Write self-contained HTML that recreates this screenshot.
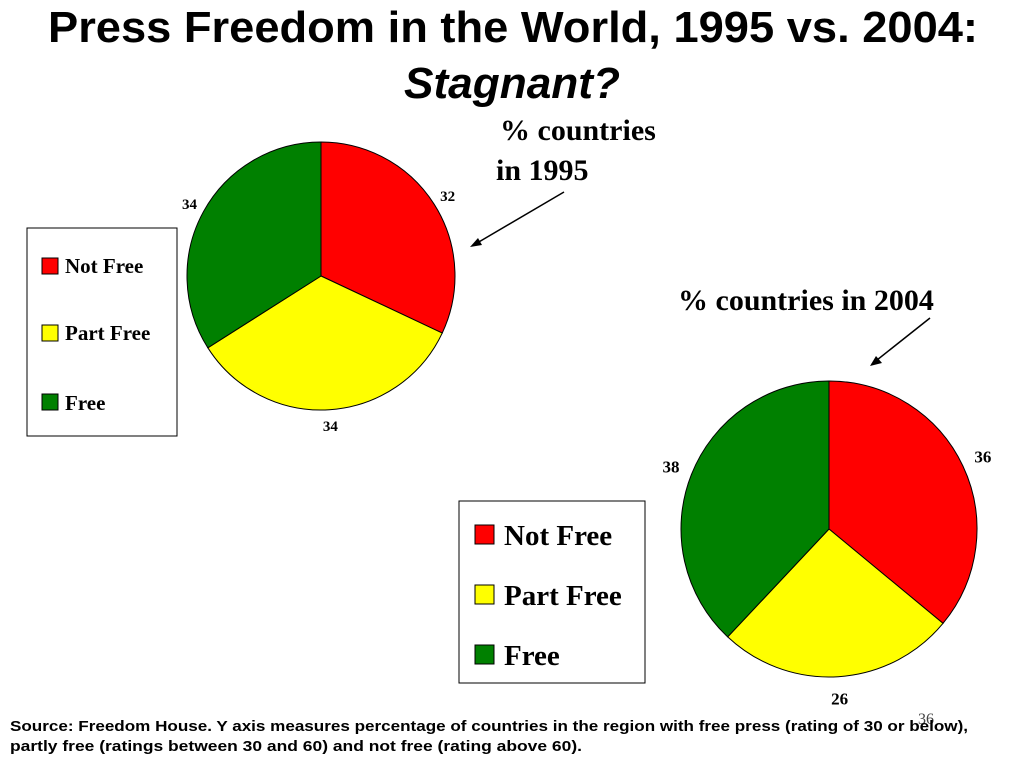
<!DOCTYPE html>
<html><head><meta charset="utf-8"><style>
html,body{margin:0;padding:0;background:#fff}
svg{display:block}
</style></head><body>
<svg id="c" width="1024" height="768" viewBox="0 0 1024 768" xmlns="http://www.w3.org/2000/svg">
<text x="48" y="42" font-family="Liberation Sans, sans-serif" font-weight="bold" font-size="44" textLength="930" lengthAdjust="spacingAndGlyphs">Press Freedom in the World, 1995 vs. 2004:</text>
<text x="404" y="98" font-family="Liberation Sans, sans-serif" font-weight="bold" font-style="italic" font-size="44" textLength="216" lengthAdjust="spacingAndGlyphs">Stagnant?</text>
<text font-family="Liberation Serif, serif" font-weight="bold" font-size="30"><tspan x="500" y="140">% countries</tspan><tspan x="496" y="180">in 1995</tspan></text>
<line x1="564" y1="192" x2="472" y2="246" stroke="#000" stroke-width="1.5"/>
<polygon points="470,247 478,238 482,245" fill="#000"/>
<text x="678" y="310" font-family="Liberation Serif, serif" font-weight="bold" font-size="30">% countries in 2004</text>
<line x1="930" y1="318" x2="872" y2="364" stroke="#000" stroke-width="1.5"/>
<polygon points="870,366 876,356 882,363" fill="#000"/>
<g id="pies"></g>
<g>
<rect x="27" y="228" width="150" height="208" fill="#fff" stroke="#000" stroke-width="1"/>
<rect x="42" y="258" width="16" height="16" fill="#f00" stroke="#000"/><text x="65" y="273" font-family="Liberation Serif, serif" font-weight="bold" font-size="21">Not Free</text>
<rect x="42" y="325" width="16" height="16" fill="#ff0" stroke="#000"/><text x="65" y="340" font-family="Liberation Serif, serif" font-weight="bold" font-size="21">Part Free</text>
<rect x="42" y="394" width="16" height="16" fill="#008000" stroke="#000"/><text x="65" y="410" font-family="Liberation Serif, serif" font-weight="bold" font-size="21">Free</text>
</g>
<g>
<rect x="459" y="501" width="186" height="182" fill="#fff" stroke="#000" stroke-width="1"/>
<rect x="475" y="525" width="19" height="19" fill="#f00" stroke="#000"/><text x="504" y="545" font-family="Liberation Serif, serif" font-weight="bold" font-size="29">Not Free</text>
<rect x="475" y="585" width="19" height="19" fill="#ff0" stroke="#000"/><text x="504" y="605" font-family="Liberation Serif, serif" font-weight="bold" font-size="29">Part Free</text>
<rect x="475" y="645" width="19" height="19" fill="#008000" stroke="#000"/><text x="504" y="665" font-family="Liberation Serif, serif" font-weight="bold" font-size="29">Free</text>
</g>
<text x="918" y="724" font-family="Liberation Serif, serif" font-size="16" fill="#444">36</text>
<text font-family="Liberation Sans, sans-serif" font-weight="bold" font-size="15"><tspan x="10" y="731" textLength="958" lengthAdjust="spacingAndGlyphs">Source: Freedom House. Y axis measures percentage of countries in the region with free press (rating of 30 or below),</tspan><tspan x="10" y="751" textLength="572" lengthAdjust="spacingAndGlyphs">partly free (ratings between 30 and 60) and not free (rating above 60).</tspan></text>
</svg>
<script>
const categories = ["Not Free", "Part Free", "Free"];
const values1995 = [32, 34, 34];
const values2004 = [36, 26, 38];
const colors = ["#ff0000", "#ffff00", "#008000"];
const NS = "http://www.w3.org/2000/svg";
const g = document.getElementById("pies");
function pie(vals, cx, cy, r, fs, year, labelOff) {
  const total = vals.reduce((a, b) => a + b, 0);
  let a0 = 0;
  vals.forEach((v, i) => {
    const a1 = a0 + v / total * 2 * Math.PI;
    const p = (a) => [cx + r * Math.sin(a), cy - r * Math.cos(a)];
    const [x0, y0] = p(a0), [x1, y1] = p(a1);
    const path = document.createElementNS(NS, "path");
    path.setAttribute("d", `M${cx},${cy} L${x0},${y0} A${r},${r} 0 ${a1 - a0 > Math.PI ? 1 : 0} 1 ${x1},${y1} Z`);
    path.setAttribute("fill", colors[i]);
    path.setAttribute("stroke", "#000");
    path.setAttribute("stroke-width", "1");
    
    
    g.appendChild(path);
    const am = (a0 + a1) / 2;
    const lr = r + labelOff;
    const t = document.createElementNS(NS, "text");
    t.setAttribute("x", cx + lr * Math.sin(am));
    t.setAttribute("y", cy - lr * Math.cos(am) + fs * 0.35);
    t.setAttribute("text-anchor", "middle");
    t.setAttribute("font-family", "Liberation Serif, serif");
    t.setAttribute("font-weight", "bold");
    t.setAttribute("font-size", fs);
    t.textContent = v;
    
    
    g.appendChild(t);
    a0 = a1;
  });
}
pie(values1995, 321, 276, 134, 15, "1995", 16);
pie(values2004, 829, 529, 148, 17, "2004", 22);
</script>
</body></html>
